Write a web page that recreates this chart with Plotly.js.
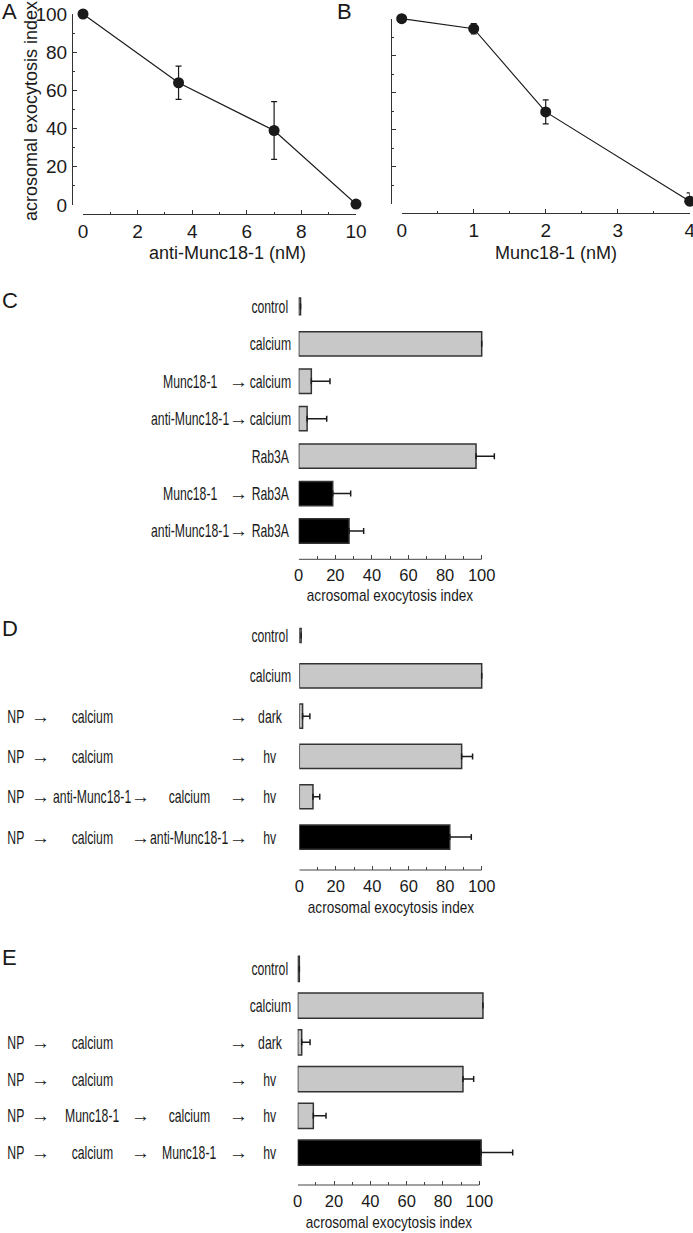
<!DOCTYPE html>
<html>
<head>
<meta charset="utf-8">
<script src="https://cdn.plot.ly/plotly-3.0.1.min.js"></script>
<style>
  body { margin: 0; background: #fff; }
  #chart { width: 693px; height: 1233px; }
</style>
</head>
<body>
<div id="chart"></div>
<script>
// panel A: anti-Munc18-1 dose response
var doseA = [0, 3.5, 7, 10];
var indexA = [100, 64, 39, 0.5];
var errA = [0, 8.7, 15.1, 0];

// panel B: Munc18-1 dose response
var doseB = [0, 1, 2, 4];
var indexB = [100, 94.6, 49.7, 1.5];
var errB = [0, 2.8, 6.5, 4.5];

// panel C
var prefixC = ['', '', 'Munc18-1', 'anti-Munc18-1', '', 'Munc18-1', 'anti-Munc18-1'];
var stimC = ['control', 'calcium', 'calcium', 'calcium', 'Rab3A', 'Rab3A', 'Rab3A'];
var valC = [1, 100, 6.9, 4.6, 96.9, 18.6, 27.5];
var errC = [null, null, 10.2, 10.7, 10, 9.8, 8];

// panel D
var stepD1 = ['', '', 'NP', 'NP', 'NP', 'NP'];
var stepD2 = ['', '', 'calcium', 'calcium', 'anti-Munc18-1', 'calcium'];
var stepD3 = ['', '', '', '', 'calcium', 'anti-Munc18-1'];
var stepD4 = ['control', 'calcium', 'dark', 'hv', 'hv', 'hv'];
var valD = [1, 100, 1.8, 89, 7.5, 82.5];
var errD = [null, null, 4, 6, 3.7, 11.8];

// panel E
var stepE1 = ['', '', 'NP', 'NP', 'NP', 'NP'];
var stepE2 = ['', '', 'calcium', 'calcium', 'Munc18-1', 'calcium'];
var stepE3 = ['', '', '', '', 'calcium', 'Munc18-1'];
var stepE4 = ['control', 'calcium', 'dark', 'hv', 'hv', 'hv'];
var valE = [0.9, 102, 2.2, 91, 8.6, 101];
var errE = [null, null, 4.6, 5.9, 7, 17.4];

var ticksBar = [0, 20, 40, 60, 80, 100];
var minorBar = [10, 30, 50, 70, 90];
var xTitle = 'acrosomal exocytosis index';

var W = 693, H = 1233;
function px(x) { return x / W; }
function py(y) { return 1 - y / H; }

var ink = '#1a1a1a';
var grey = '#c8c8c8';
var sans = 'Liberation Sans, Arial, sans-serif';
var LABEL = 18.5, SQUEEZE_LABEL = 0.66;   // row labels get squeezed horizontally after drawing
var BTITLE = 17, SQUEEZE_TITLE = 0.8;

function rows(a) { return a.map(function (d, i) { return i; }); }

function lineTrace(x, y, err, xa, ya) {
    return {
        x: x, y: y, type: 'scatter', mode: 'lines+markers',
        xaxis: xa, yaxis: ya, cliponaxis: false,
        line: {color: ink, width: 1.2},
        marker: {color: ink, size: 11},
        error_y: {type: 'data', array: err, color: ink, thickness: 1.2, width: 3},
        showlegend: false, hoverinfo: 'none'
    };
}

function barTrace(vals, err, fills, widths, xa, ya) {
    return {
        x: vals, y: rows(vals), type: 'bar', orientation: 'h',
        xaxis: xa, yaxis: ya, cliponaxis: false,
        width: widths,
        marker: {color: fills, line: {color: '#333', width: 1.5}},
        error_x: {type: 'data', symmetric: false, array: err,
                  arrayminus: vals.map(function () { return 0; }),
                  color: ink, thickness: 1.5, width: 3},
        showlegend: false, hoverinfo: 'none'
    };
}

var data = [
    lineTrace(doseA, indexA, errA, 'x', 'y'),
    lineTrace(doseB, indexB, errB, 'x2', 'y2'),
    barTrace(valC, errC, [grey, grey, grey, grey, grey, '#000', '#000'],
             [0.45, 0.65, 0.65, 0.65, 0.65, 0.65, 0.65], 'x3', 'y3'),
    barTrace(valD, errD, [grey, grey, grey, grey, grey, '#000'],
             [0.35, 0.6, 0.6, 0.6, 0.6, 0.6], 'x4', 'y4'),
    barTrace(valE, errE, [grey, grey, grey, grey, grey, '#000'],
             [0.69, 0.69, 0.69, 0.69, 0.69, 0.69], 'x5', 'y5')
];

function doseX(dom, lineY, range, dtick) {
    return {
        domain: [px(dom[0]), px(dom[1])], range: range, anchor: 'free', position: py(lineY),
        dtick: dtick, ticks: 'inside', ticklen: 4, tickwidth: 1, tickcolor: '#333',
        minor: {dtick: dtick / 2, ticks: 'inside', ticklen: 2, tickcolor: '#333'},
        showline: true, linecolor: '#333', linewidth: 1,
        showgrid: false, zeroline: false, ticklabelstandoff: 0, ticklabeloverflow: 'allow',
        tickfont: {family: sans, size: 19, color: ink}
    };
}

function doseY(dom, lineX, labels) {
    return {
        domain: [py(dom[1]), py(dom[0])], range: [0, 100], anchor: 'free', position: px(lineX),
        dtick: 20, ticks: 'inside', ticklen: 4, tickwidth: 1, tickcolor: '#333',
        minor: {dtick: 10, ticks: 'inside', ticklen: 2, tickcolor: '#333'},
        showline: true, linecolor: '#333', linewidth: 1,
        showgrid: false, zeroline: false, showticklabels: labels, ticklabelstandoff: 1,
        tickfont: {family: sans, size: 19, color: ink}
    };
}

// bar axes run to 125 so long error bars are not clipped; the drawn line stops at 100
function barX(dom) {
    var span = dom[1] - dom[0];
    return {
        domain: [px(dom[0]), px(dom[0] + span * 1.25)], range: [0, 125],
        anchor: 'free', position: py(dom[2]),
        tickvals: ticksBar, ticks: 'inside', ticklen: 4, tickwidth: 1, tickcolor: '#444',
        minor: {tickvals: minorBar, ticks: 'inside', ticklen: 3, tickcolor: '#444'},
        showline: false, showgrid: false, zeroline: false, ticklabelstandoff: 4,
        tickfont: {family: sans, size: 16.5, color: ink}
    };
}

function barY(top, bottom, n) {
    return {domain: [py(bottom), py(top)], range: [n - 0.5, -0.5], visible: false};
}

var domC = [298.7, 481.7, 559.3], domD = [299.3, 481.7, 870], domE = [297.7, 479.3, 1185];

var layout = {
    width: W, height: H,
    margin: {l: 0, r: 0, t: 0, b: 0},
    paper_bgcolor: '#fff', plot_bgcolor: 'rgba(0,0,0,0)',
    font: {family: sans, color: ink},
    xaxis: doseX([83, 356], 214, [0, 10], 2),
    yaxis: doseY([14, 205], 72, true),
    xaxis2: doseX([401.7, 689.7], 213.3, [0, 4], 1),
    yaxis2: doseY([18.7, 204], 391, false),
    xaxis3: barX(domC),
    yaxis3: barY(287.7, 549.7, valC.length),
    xaxis4: barX(domD),
    yaxis4: barY(615.4, 857.2, valD.length),
    xaxis5: barX(domE),
    yaxis5: barY(950.5, 1171, valE.length),
    shapes: [],
    annotations: []
};

// axis titles of the dose-response panels
[['acrosomal exocytosis index', 31, 111, -90], ['anti-Munc18-1 (nM)', 227, 253, 0],
 ['Munc18-1 (nM)', 556, 253, 0]].forEach(function (t) {
    layout.annotations.push({
        text: t[0], xref: 'paper', yref: 'paper', x: px(t[1]), y: py(t[2]),
        textangle: t[3], showarrow: false, xanchor: 'center', yanchor: 'middle',
        font: {family: sans, size: 18, color: ink}
    });
});

// bar panel axis lines (0..100) and titles
[['x3', domC, 596], ['x4', domD, 908], ['x5', domE, 1222]].forEach(function (b) {
    layout.shapes.push({
        type: 'line', xref: b[0], yref: 'paper', x0: 0, x1: 100,
        y0: py(b[1][2]), y1: py(b[1][2]), line: {color: '#444', width: 1}
    });
    layout.annotations.push({
        text: xTitle, xref: b[0], yref: 'paper', x: 50, y: py(b[2]),
        xanchor: 'center', yanchor: 'middle', showarrow: false,
        font: {family: sans, size: BTITLE, color: ink}
    });
});

// panel letters
[['A', 0, 12], ['B', 335, 12], ['C', 0, 301], ['D', 0, 628], ['E', 0, 957]].forEach(function (p) {
    layout.annotations.push({
        text: p[0], xref: 'paper', yref: 'paper', x: px(p[1]), y: py(p[2]),
        xanchor: 'left', yanchor: 'middle', showarrow: false,
        font: {family: sans, size: 22, color: ink}
    });
});

// row labels, in columns
function addColumn(labels, xPix, ya, arrow) {
    labels.forEach(function (s, i) {
        if (!s) return;
        layout.annotations.push({
            text: arrow ? '\u2192' : s, xref: 'paper', yref: ya, x: px(xPix), y: i,
            xanchor: 'center', yanchor: 'middle', showarrow: false,
            font: {family: sans, size: arrow ? 19 : LABEL, color: ink}
        });
    });
}

addColumn(prefixC, 190, 'y3');
addColumn(prefixC, 238, 'y3', true);
addColumn(stimC, 270, 'y3');

addColumn(stepD1, 15.5, 'y4');
addColumn(stepD1, 40, 'y4', true);
addColumn(stepD2, 92, 'y4');
addColumn(stepD3, 140, 'y4', true);
addColumn(stepD3, 189, 'y4');
addColumn(stepD1, 238, 'y4', true);
addColumn(stepD4, 270, 'y4');

addColumn(stepE1, 15.5, 'y5');
addColumn(stepE1, 40, 'y5', true);
addColumn(stepE2, 92, 'y5');
addColumn(stepE3, 140, 'y5', true);
addColumn(stepE3, 189, 'y5');
addColumn(stepE1, 238, 'y5', true);
addColumn(stepE4, 270, 'y5');

Plotly.newPlot('chart', data, layout, {staticPlot: true}).then(function (gd) {
    // the original uses a condensed face; squeeze the row labels and bar titles
    gd.querySelectorAll('.annotation-text').forEach(function (t) {
        var f = null;
        if (t.style.fontSize === LABEL + 'px') f = SQUEEZE_LABEL;
        if (t.style.fontSize === BTITLE + 'px') f = SQUEEZE_TITLE;
        if (!f) return;
        var w = t.getComputedTextLength();
        t.setAttribute('textLength', (w * f).toFixed(1));
        t.setAttribute('lengthAdjust', 'spacingAndGlyphs');
    });
});
</script>
</body>
</html>
